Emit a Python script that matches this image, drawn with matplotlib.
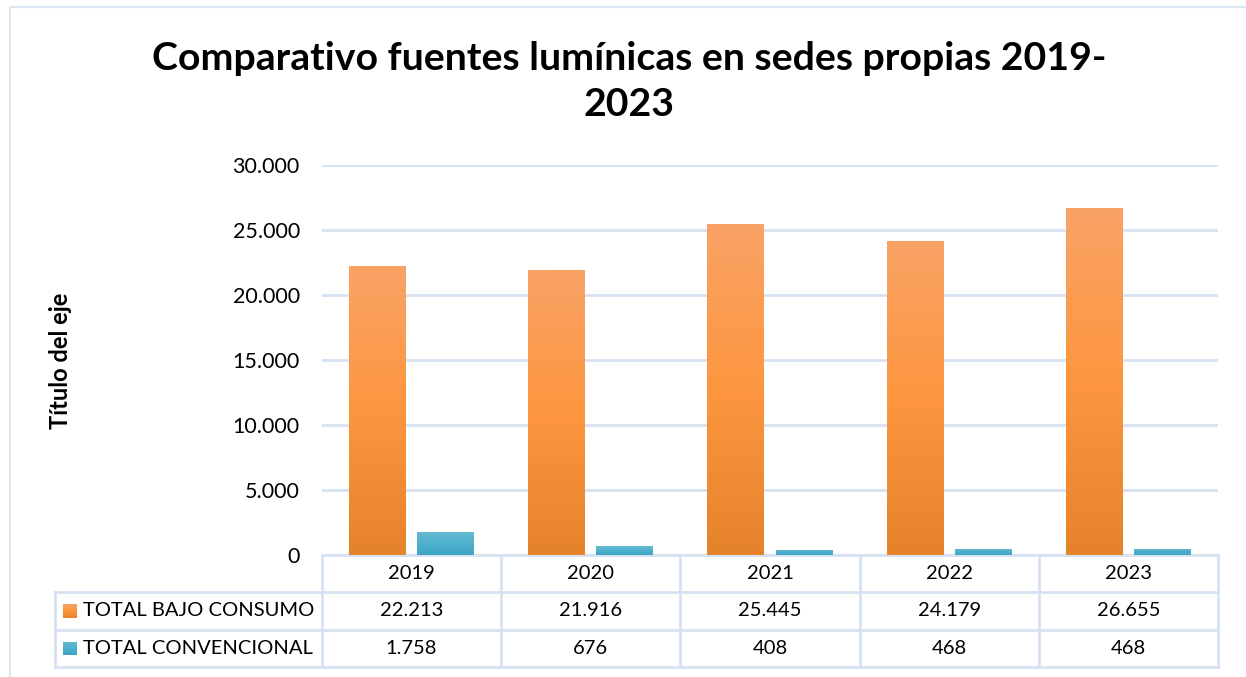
import numpy as np
import matplotlib
matplotlib.use("Agg")
import matplotlib.pyplot as plt
from matplotlib.colors import LinearSegmentedColormap
from matplotlib.lines import Line2D
import matplotlib.transforms as mtransforms

years = ["2019", "2020", "2021", "2022", "2023"]
series_names = ["TOTAL BAJO CONSUMO", "TOTAL CONVENCIONAL"]
bajo_consumo = [22213, 21916, 25445, 24179, 26655]
convencional = [1758, 676, 408, 468, 468]
y_ticks = [0, 5000, 10000, 15000, 20000, 25000, 30000]

plt.rcParams["font.family"] = ["Lato", "DejaVu Sans"]

W, H = 1246, 677
fig = plt.figure(figsize=(W / 100, H / 100), dpi=100)
fig.patch.set_facecolor("white")

grid_col = "#d6e1f1"

def fx(px):
    return px / W

def fy(py):
    return 1 - py / H

def fmt(v):
    return f"{v:,}".replace(",", ".")

# chart frame
fig.add_artist(Line2D([fx(10), fx(10)], [fy(7), 0], color="#dde6f2", lw=1.5))
fig.add_artist(Line2D([fx(10), 1], [fy(7), fy(7)], color="#dde6f2", lw=1.5))

ax_l, ax_r, ax_t, ax_b = 322, 1218, 165, 555
ax = fig.add_axes([fx(ax_l), fy(ax_b), fx(ax_r - ax_l), (ax_b - ax_t) / H])
for s in ax.spines.values():
    s.set_visible(False)
ax.set_yticks(y_ticks)
ax.set_yticklabels([fmt(v) for v in y_ticks], fontsize=15.5)
ax.tick_params(axis="y", length=0, pad=16)
ax.set_xticks([])
ax.yaxis.grid(True, color=grid_col, lw=2)
ax.set_axisbelow(True)

orange_cmap = LinearSegmentedColormap.from_list(
    "orange_grad", ["#e5832c", "#fd963f", "#f9a366"])
teal_cmap = LinearSegmentedColormap.from_list(
    "teal_grad", ["#3ca4c2", "#4eb0cb", "#66b9d1"])

bw = 0.318
off = 0.19
x = np.arange(len(years))
grad = np.linspace(0, 1, 256).reshape(-1, 1)

def gradient_bars(xpos, vals, cmap):
    bars = ax.bar(xpos, vals, width=bw, color="none", zorder=3)
    for b in bars:
        x0, y0 = b.get_x(), b.get_y()
        x1, y1 = x0 + b.get_width(), y0 + b.get_height()
        im = ax.imshow(grad, cmap=cmap, origin="lower", aspect="auto",
                       extent=[x0, x1, y0, y1], zorder=3)
        im.set_clip_path(b)
    return bars

gradient_bars(x - off, bajo_consumo, orange_cmap)
gradient_bars(x + off, convencional, teal_cmap)
ax.set_xlim(-0.5, len(years) - 0.5)
ax.set_ylim(0, 30000)

# data table below the plot
def ay(py):
    return (ax_b - py) / (ax_b - ax_t)

trans = mtransforms.blended_transform_factory(ax.transData, ax.transAxes)
tab_kw = dict(color=grid_col, lw=2, clip_on=False, zorder=1)
row_y = [555, 592, 630, 667]
label_left = 55
col_edges = np.arange(len(years) + 1) - 0.5

# horizontal rules
ax.plot([-0.5, len(years) - 0.5], [ay(row_y[0])] * 2, transform=trans, **tab_kw)
for py in row_y[1:]:
    ax.plot([fx(label_left), fx(ax_r)], [fy(py)] * 2, transform=fig.transFigure, **tab_kw)
# vertical rules
for ce in col_edges:
    ax.plot([ce, ce], [ay(row_y[0]), ay(row_y[-1])], transform=trans, **tab_kw)
ax.plot([fx(label_left)] * 2, [fy(row_y[1]), fy(row_y[-1])], transform=fig.transFigure, **tab_kw)

txt_kw = dict(fontsize=14.5, ha="center", va="center", transform=trans, clip_on=False)
for i, yr in enumerate(years):
    ax.text(i, ay((row_y[0] + row_y[1]) / 2), yr, **txt_kw)
    ax.text(i, ay((row_y[1] + row_y[2]) / 2), fmt(bajo_consumo[i]), **txt_kw)
    ax.text(i, ay((row_y[2] + row_y[3]) / 2), fmt(convencional[i]), **txt_kw)

# legend keys inside the table
for r, (name, cmap) in enumerate(zip(series_names, [orange_cmap, teal_cmap])):
    yc = (row_y[r + 1] + row_y[r + 2]) / 2
    key = fig.add_axes([fx(63), fy(yc + 7), fx(14), 14 / H])
    key.imshow(grad, cmap=cmap, origin="lower", aspect="auto", extent=[0, 1, 0, 1])
    key.axis("off")
    fig.text(fx(83), fy(yc), name, fontsize=14.5, ha="left", va="center")

fig.text(fx(60), fy(361), "Título del eje", rotation=90, fontsize=17,
         fontweight="bold", ha="center", va="center")

fig.text(fx(629), fy(58), "Comparativo fuentes lumínicas en sedes propias 2019-",
         fontsize=28.3, fontweight="bold", ha="center", va="center")
fig.text(fx(629), fy(105), "2023", fontsize=28.3, fontweight="bold",
         ha="center", va="center")

fig.savefig("out.png", dpi=100, facecolor="white")
